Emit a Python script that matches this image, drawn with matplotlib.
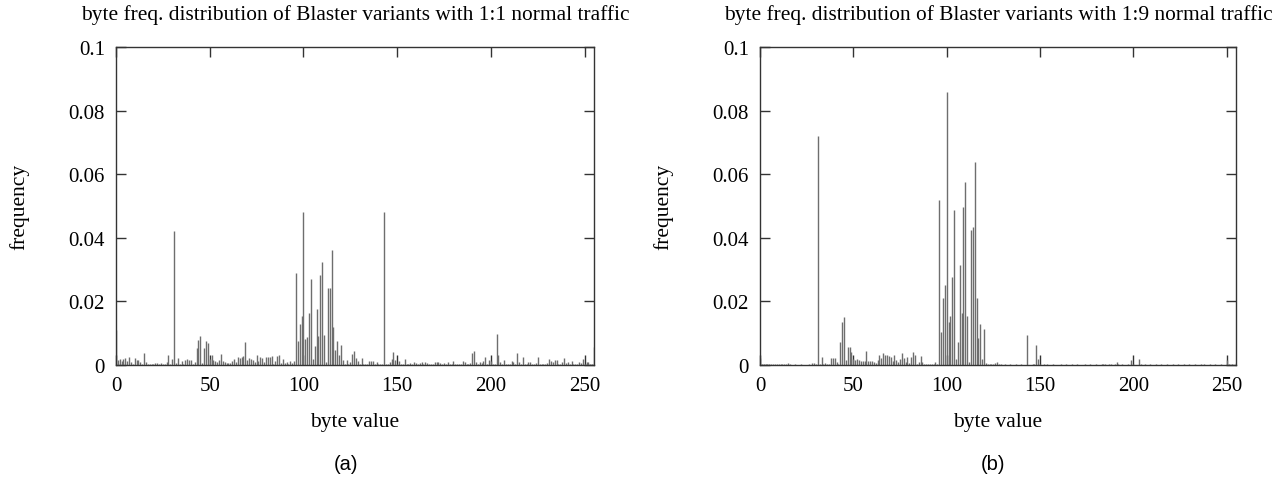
import numpy as np
import matplotlib
matplotlib.use("Agg")
import matplotlib.pyplot as plt

# byte values 0..255
byte_vals = np.arange(256)

# frequency per byte value, Blaster variants with 1:1 normal traffic
freq_1to1 = [
    0.011, 0.0015, 0.002, 0.0012, 0.0018, 0.0022, 0.0014, 0.0024, 0.0008, 0.0004, 0.0022, 0.0015, 0.0015, 0.0008, 0.0004, 0.0038,
    0.0008, 0.0003, 0.0002, 0.0003, 0.0004, 0.0006, 0.0005, 0.0003, 0.0006, 0.0004, 0.0002, 0.001, 0.003, 0.0003, 0.0018, 0.042,
    0.0005, 0.0022, 0.0004, 0.0012, 0.0002, 0.0015, 0.0018, 0.0017, 0.0015, 0.0004, 0.001, 0.0053, 0.0079, 0.009, 0.0006, 0.0055,
    0.0075, 0.0068, 0.002, 0.0032, 0.0015, 0.0012, 0.0008, 0.0016, 0.0035, 0.0012, 0.0008, 0.0006, 0.0005, 0.0006, 0.0012, 0.002,
    0.0008, 0.0025, 0.0022, 0.0024, 0.0028, 0.0071, 0.0015, 0.0022, 0.0018, 0.0016, 0.0008, 0.0032, 0.0014, 0.0025, 0.0022, 0.0008,
    0.0026, 0.0024, 0.0026, 0.0028, 0.0004, 0.0014, 0.0029, 0.003, 0.0006, 0.0018, 0.0007, 0.001, 0.0004, 0.0012, 0.0006, 0.0012,
    0.029, 0.0077, 0.0129, 0.0155, 0.048, 0.0082, 0.0088, 0.0163, 0.027, 0.002, 0.006, 0.0176, 0.009, 0.0283, 0.0325, 0.0094,
    0.0008, 0.0243, 0.0241, 0.0361, 0.0118, 0.0048, 0.0075, 0.003, 0.0062, 0.0015, 0.0003, 0.0017, 0.0004, 0.0008, 0.0035, 0.0044,
    0.0022, 0.0012, 0.0003, 0.0022, 0.0004, 0.0003, 0.0002, 0.0012, 0.0012, 0.0012, 0.0004, 0.0008, 0.0002, 0.0003, 0.0003, 0.048,
    0.0003, 0.0002, 0.0008, 0.0018, 0.0041, 0.0015, 0.0004, 0.0014, 0.0004, 0.0003, 0.0018, 0.0003, 0.0002, 0.0006, 0.0004, 0.0008,
    0.0006, 0.0003, 0.0005, 0.0008, 0.0004, 0.0008, 0.0006, 0.0004, 0.0003, 0.0002, 0.0008, 0.001, 0.0009, 0.0006, 0.0004, 0.0006,
    0.0002, 0.0008, 0.0003, 0.0002, 0.0012, 0.0004, 0.0002, 0.0003, 0.0004, 0.0014, 0.0008, 0.0003, 0.0004, 0.0006, 0.0038, 0.0043,
    0.0008, 0.0004, 0.0008, 0.0006, 0.0014, 0.0026, 0.0004, 0.0016, 0.0012, 0.0004, 0.0003, 0.0098, 0.003, 0.0008, 0.0004, 0.0016,
    0.0003, 0.0002, 0.0004, 0.0012, 0.0008, 0.0003, 0.0038, 0.0008, 0.0003, 0.0025, 0.0003, 0.0002, 0.001, 0.0008, 0.0004, 0.0003,
    0.0006, 0.0025, 0.0004, 0.0003, 0.0002, 0.0004, 0.0006, 0.002, 0.0012, 0.0008, 0.0015, 0.0015, 0.0004, 0.0003, 0.0008, 0.0022,
    0.0006, 0.0008, 0.0004, 0.0012, 0.0002, 0.0004, 0.0003, 0.0008, 0.0006, 0.0018, 0.0004, 0.001, 0.0008, 0.0003, 0.0004, 0.0056,
]

# frequency per byte value, Blaster variants with 1:9 normal traffic
freq_1to9 = [
    0.0021, 0.0004, 0.0003, 0.0004, 0.0002, 0.0004, 0.0003, 0.0002, 0.0004, 0.0003, 0.0002, 0.0004, 0.0002, 0.0003, 0.0002, 0.0006,
    0.0002, 0.0001, 0.0001, 0.0002, 0.0001, 0.0001, 0.0002, 0.0001, 0.0001, 0.0001, 0.0002, 0.0001, 0.0006, 0.0006, 0.0004, 0.072,
    0.0002, 0.0024, 0.0003, 0.0006, 0.0002, 0.0003, 0.0023, 0.0023, 0.0022, 0.0008, 0.0003, 0.0073, 0.0136, 0.015, 0.0015, 0.0056,
    0.0056, 0.004, 0.0018, 0.0016, 0.0018, 0.0015, 0.0012, 0.0012, 0.0013, 0.0044, 0.0012, 0.0014, 0.0012, 0.0008, 0.0006, 0.0015,
    0.003, 0.0022, 0.0038, 0.0032, 0.003, 0.0028, 0.0025, 0.0012, 0.003, 0.0016, 0.0008, 0.002, 0.0038, 0.0022, 0.0008, 0.0025,
    0.0006, 0.0024, 0.004, 0.0033, 0.0004, 0.001, 0.0028, 0.001, 0.0004, 0.0003, 0.0004, 0.0003, 0.0002, 0.0003, 0.0008, 0.0003,
    0.0518, 0.0104, 0.0212, 0.0252, 0.0858, 0.0136, 0.0155, 0.0276, 0.0488, 0.002, 0.0072, 0.0316, 0.0163, 0.0497, 0.0577, 0.0155,
    0.0008, 0.0426, 0.0435, 0.0638, 0.021, 0.0084, 0.0129, 0.002, 0.0113, 0.0006, 0.0002, 0.0002, 0.0002, 0.0002, 0.0006, 0.0008,
    0.0004, 0.0002, 0.0001, 0.0002, 0.0001, 0.0001, 0.0002, 0.0001, 0.0001, 0.0002, 0.0001, 0.0001, 0.0002, 0.0001, 0.0001, 0.0094,
    0.0001, 0.0001, 0.0002, 0.0003, 0.0064, 0.002, 0.0002, 0.0001, 0.0002, 0.0001, 0.0002, 0.0001, 0.0001, 0.0002, 0.0001, 0.0001,
    0.0001, 0.0002, 0.0001, 0.0001, 0.0002, 0.0001, 0.0001, 0.0002, 0.0001, 0.0001, 0.0002, 0.0001, 0.0001, 0.0001, 0.0002, 0.0001,
    0.0001, 0.0002, 0.0001, 0.0001, 0.0002, 0.0001, 0.0001, 0.0002, 0.0003, 0.0002, 0.0001, 0.0003, 0.0002, 0.0001, 0.0004, 0.0009,
    0.0002, 0.0001, 0.0002, 0.0001, 0.0001, 0.0002, 0.0001, 0.0017, 0.0002, 0.0001, 0.0001, 0.0019, 0.0002, 0.0001, 0.0002, 0.0001,
    0.0001, 0.0002, 0.0001, 0.0001, 0.0003, 0.0001, 0.0001, 0.0002, 0.0001, 0.0001, 0.0002, 0.0001, 0.0001, 0.0002, 0.0001, 0.0001,
    0.0002, 0.0001, 0.0001, 0.0002, 0.0001, 0.0001, 0.0002, 0.0001, 0.0001, 0.0002, 0.0001, 0.0001, 0.0002, 0.0001, 0.0003, 0.0001,
    0.0001, 0.0002, 0.0001, 0.0001, 0.0002, 0.0001, 0.0001, 0.0002, 0.0001, 0.0001, 0.0017, 0.0002, 0.0001, 0.0002, 0.0001, 0.0006,
]

titles = ["byte freq. distribution of Blaster variants with 1:1 normal traffic",
          "byte freq. distribution of Blaster variants with 1:9 normal traffic"]
panel_labels = ["(a)", "(b)"]
x_ticks = [0, 50, 100, 150, 200, 250]
y_ticks = [0, 0.02, 0.04, 0.06, 0.08, 0.1]
y_tick_labels = ["0", "0.02", "0.04", "0.06", "0.08", "0.1"]

W, H = 1277, 485
plt.rcParams['font.family'] = ['Liberation Serif', 'DejaVu Serif']
fig = plt.figure(figsize=(W / 100, H / 100), dpi=100)

# axes boxes in pixels: left, right, top, bottom
boxes = [(116, 594, 48, 366), (760, 1236, 48, 366)]
label_x = [346, 993]

for i, data in enumerate([freq_1to1, freq_1to9]):
    l, r, t, b = boxes[i]
    ax = fig.add_axes([l / W, 1 - b / H, (r - l) / W, (b - t) / H])
    ax.vlines(byte_vals, 0, data, colors='#6e6e6e', linewidth=1.0)
    ax.set_xlim(0, 255)
    ax.set_ylim(0, 0.1)
    ax.set_xticks(x_ticks)
    ax.set_yticks(y_ticks)
    ax.set_yticklabels(y_tick_labels)
    ax.tick_params(direction='in', top=True, right=True, length=7, width=1,
                   labelsize=15, pad=8, color='#333333')
    for s in ax.spines.values():
        s.set_linewidth(1.0)
        s.set_color('#333333')
    ax.set_xlabel("byte value", fontsize=15.5, labelpad=12)
    ax.set_ylabel("frequency", fontsize=15.5, labelpad=28)

    fig.text((l + r) / 2 / W, 1 - 15 / H, titles[i], ha='center', va='center', fontsize=15.4)
    fig.text(label_x[i] / W, 1 - 465 / H, panel_labels[i], ha='center', va='center',
             fontsize=14.5, family=['Liberation Sans', 'DejaVu Sans'])

fig.savefig("out.png", dpi=100)
